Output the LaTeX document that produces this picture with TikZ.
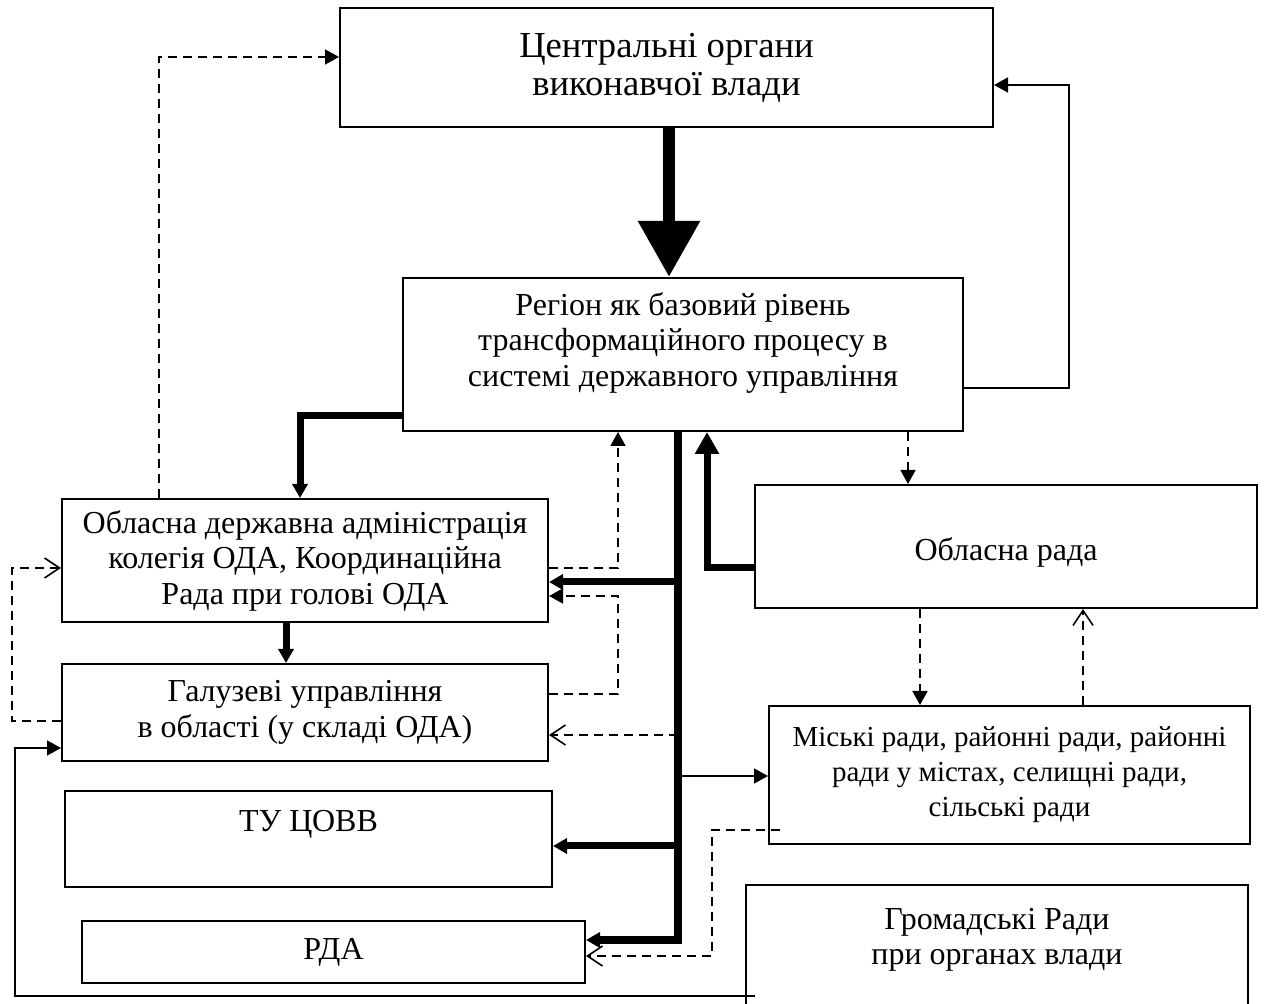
\documentclass[tikz,border=0pt]{standalone}
\usepackage{fontspec}
\setmainfont{Liberation Serif}
\usetikzlibrary{arrows.meta,calc}

\tikzset{
	box/.style={draw, line width=1pt, align=center, inner sep=0pt,
		font=\fontsize{16}{17.75}\selectfont},
	txt/.style={align=center, inner sep=0pt, font=\fontsize{16}{17.75}\selectfont},
	thin/.style={line width=0.8pt},
	fat/.style={line width=3.5pt},
	dashln/.style={line width=0.8pt, dash pattern=on 4.5pt off 3pt},
	tri/.style={-{Triangle[length=7pt,width=7.5pt]}},
	bigtri/.style={-{Triangle[length=11pt,width=11.5pt]}},
	barb/.style={-{Straight Barb[length=7.5pt,width=10pt]}}
}

\begin{document}
\begin{tikzpicture}[x=0.5pt,y=-0.5pt]
	\useasboundingbox (0,0) rectangle (1264,1004);
	\clip (0,0) rectangle (1264,1004);

	% boxes
	\node[box, minimum width=326.5pt, minimum height=59.5pt,
		font=\fontsize{18.3}{19}\selectfont] (cova) at (666.5,67.5)
		{Центральні органи\\виконавчої влади};
	\node[box, minimum width=280pt, minimum height=76.5pt] (region) at (683,354.5) {};
	\node[txt] (region-t) at (683,343)
		{Регіон як базовий рівень\\трансформаційного процесу в\\системі державного управління};
	\node[box, minimum width=243pt, minimum height=61.5pt] (oda) at (305,560.5)
		{Обласна державна адміністрація\\колегія ОДА, Координаційна\\Рада при голові ОДА};
	\node[box, minimum width=243pt, minimum height=48.5pt] (galuz) at (305,712.5)
		{Галузеві управління\\в області (у складі ОДА)};
	\node[box, minimum width=243.5pt, minimum height=48pt] (tu) at (308.5,839)
		{ТУ ЦОВВ\\~};
	\node[box, minimum width=251.5pt, minimum height=31pt] (rda) at (333.5,952) {РДА};
	\node[box, minimum width=251pt, minimum height=61.5pt] (oblrada) at (1006,546.5) {};
	\node[txt] (oblrada-t) at (1006,552) {Обласна рада};
	\node[box, minimum width=240.5pt, minimum height=69pt,
		font=\fontsize{14.5}{17.5}\selectfont] (misk) at (1009.5,775)
		{Міські ради, районні ради, районні\\ради у містах, селищні ради,\\сільські ради};
	\node[box, minimum width=251pt, minimum height=80pt] (grom) at (997,965) {};
	\node[txt] (grom-t) at (997,940) {Громадські Ради\\при органах влади};

	% top
	\draw[dashln, tri] ($(oda.north west)+(98,0)$) |- ($(cova.west)+(0,-10.5)$);
	\draw[line width=6pt, -{Triangle[length=28pt,width=29.5pt]}]
		($(cova.south)+(2.5,0)$) coordinate (b0) -- (b0 |- region.north);
	\draw[thin, tri] ($(region.east)+(0,33.5)$) -| ($(cova.east)+(75,17.5)$)
		-- ($(cova.east)+(0,17.5)$);

	% left side
	\draw[fat, tri] ($(region.west)+(0,61.5)$) -| ($(oda.north west)+(239,0)$);
	\draw[fat, tri] ($(oda.south west)+(225,0)$) -- ($(galuz.north west)+(225,0)$);
	\draw[dashln, barb] (galuz.west |- 0,721) -| (12,568) -- (oda.west |- 0,568);
	\coordinate (g0) at (755,996);
	\draw[thin, tri] (g0) -| (15,748) -- (galuz.west |- 0,748);

	% trunk
	\draw[line width=4pt, tri] ($(region.south)+(-5,0)$) coordinate (t0)
		|- (rda.east |- 0,940);
	\draw[fat, tri] (t0 |- 0,582) -- (oda.east |- 0,582);
	\draw[fat, tri] (t0 |- 0,846) -- (tu.east |- 0,846);
	\draw[dashln, barb] (t0 |- 0,735) -- (galuz.east |- 0,735);
	\draw[thin, tri] (t0 |- 0,776) -- (misk.west |- 0,776);

	% dashed loops
	\draw[dashln, tri] (oda.east |- 0,568) -| (region.south -| 618,0);
	\draw[dashln, tri] (galuz.east |- 0,694) -| (618,596) -- (oda.east |- 0,596);
	\coordinate (m0) at (780,830);
	\draw[dashln, barb] (m0) -| (712,956) -- (rda.east |- 0,956);

	% right side
	\draw[fat, bigtri] (oblrada.west |- 0,568) -| (region.south -| 707,0);
	\draw[dashln, tri] (region.south -| 908,0) -- (oblrada.north -| 908,0);
	\draw[dashln, tri] (oblrada.south -| 920,0) -- (misk.north -| 920,0);
	\draw[dashln, barb] (misk.north -| 1083,0) -- (oblrada.south -| 1083,0);
\end{tikzpicture}
\end{document}
